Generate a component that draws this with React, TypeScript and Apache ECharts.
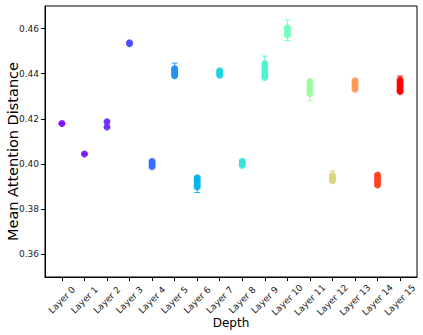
import React, { useEffect, useRef } from 'react';
import * as echarts from 'echarts';

const layers = ['Layer 0', 'Layer 1', 'Layer 2', 'Layer 3', 'Layer 4', 'Layer 5', 'Layer 6', 'Layer 7',
  'Layer 8', 'Layer 9', 'Layer 10', 'Layer 11', 'Layer 12', 'Layer 13', 'Layer 14', 'Layer 15'];

const layerPoints: number[][] = [
  [0.418],
  [0.4045],
  [0.4187, 0.4164],
  [0.4537, 0.4533],
  [0.4012, 0.4005, 0.3997, 0.3988],
  [0.4423, 0.4415, 0.4405, 0.4398, 0.4391],
  [0.3939, 0.393, 0.392, 0.3908, 0.3899],
  [0.4413, 0.4405, 0.4398, 0.4394],
  [0.4012, 0.4004, 0.3995],
  [0.4445, 0.4432, 0.4418, 0.4405, 0.4393, 0.4384],
  [0.4604, 0.4595, 0.4585, 0.4572],
  [0.4366, 0.4352, 0.4338, 0.4325, 0.4313],
  [0.3949, 0.394, 0.3932, 0.3926],
  [0.4369, 0.4357, 0.4345, 0.4332],
  [0.3951, 0.394, 0.3928, 0.3917, 0.3907],
  [0.4372, 0.4362, 0.435, 0.4338, 0.4328, 0.4321],
];

const errLow = [0.4178, 0.4043, 0.4162, 0.4531, 0.3985, 0.4388, 0.3874, 0.4392,
  0.3993, 0.438, 0.4547, 0.428, 0.3922, 0.433, 0.3904, 0.4318];
const errHigh = [0.4182, 0.4047, 0.419, 0.4539, 0.4015, 0.4447, 0.3942, 0.4416,
  0.4014, 0.4478, 0.4638, 0.437, 0.397, 0.4372, 0.3955, 0.439];

const colors = ['#8000ff', '#7510ff', '#6628fe', '#4f4bfc', '#386ef9', '#1f90f4', '#00b4ec', '#1fd3e0',
  '#33e3da', '#4df3ce', '#70febe', '#9efaa1', '#dbd77b', '#ff964f', '#ff4020', '#ff0000'];

const yTicks = [0.36, 0.38, 0.4, 0.42, 0.44, 0.46];
const xTicks = layers.map((_, i) => i);

const FONT = 'DejaVu Sans';

export default function App() {
  const ref = useRef<HTMLDivElement>(null);
  useEffect(() => {
    if (!ref.current) return;
    const chart = echarts.init(ref.current, undefined, { renderer: 'svg' });
    const scatterSeries = layerPoints.map((pts, i) => ({
      type: 'scatter',
      name: layers[i],
      data: pts.map((v) => [i, v]),
      symbol: 'circle',
      symbolSize: 7,
      itemStyle: { color: colors[i], opacity: 0.9 },
      z: 3,
    }));
    const errData = layers.map((_, i) => [i, errLow[i], errHigh[i]]);
    chart.setOption({
      animation: false,
      grid: {
        left: 45, right: 6, top: 6, bottom: 58,
        containLabel: false, outerBoundsMode: 'none',
        show: true, borderColor: '#000', borderWidth: 1,
      },
      xAxis: {
        type: 'value',
        min: -0.75,
        max: 15.75,
        name: 'Depth',
        nameLocation: 'middle',
        nameGap: 40,
        nameMoveOverlap: false,
        nameTextStyle: { fontFamily: FONT, fontSize: 12, color: '#000', verticalAlign: 'top' },
        axisLine: { show: true, onZero: false, lineStyle: { color: '#000', width: 1 } },
        axisTick: { show: true, length: 4, lineStyle: { color: '#000' }, customValues: xTicks },
        axisLabel: {
          customValues: xTicks,
          formatter: (v: number) => layers[Math.round(v)] ?? '',
          rotate: 45,
          align: 'center',
          verticalAlign: 'middle',
          margin: 23,
          fontFamily: FONT,
          fontSize: 9,
          color: '#222',
        },
        splitLine: { show: false },
      },
      yAxis: {
        type: 'value',
        min: 0.35,
        max: 0.47,
        name: 'Mean Attention Distance',
        nameLocation: 'middle',
        nameGap: 32,
        nameMoveOverlap: false,
        nameTextStyle: {
          fontFamily: FONT, fontSize: 14.5, color: '#000', verticalAlign: 'middle',
          padding: [0, 20, 0, 0],
        },
        axisLine: { show: true, onZero: false, lineStyle: { color: '#000', width: 1 } },
        axisTick: { show: true, length: 4, lineStyle: { color: '#000' }, customValues: yTicks },
        axisLabel: {
          customValues: yTicks,
          formatter: (v: number) => v.toFixed(2),
          margin: 6,
          fontFamily: FONT,
          fontSize: 9,
          color: '#222',
        },
        splitLine: { show: false },
      },
      series: [
        {
          type: 'custom',
          name: 'error',
          data: errData,
          encode: { x: 0, y: [1, 2] },
          z: 2,
          renderItem: (params: any, api: any) => {
            const i = api.value(0);
            const pLo = api.coord([i, api.value(1)]);
            const pHi = api.coord([i, api.value(2)]);
            const w = 3;
            const style = { stroke: colors[i], lineWidth: 1, opacity: 0.9 };
            return {
              type: 'group',
              children: [
                { type: 'line', shape: { x1: pLo[0], y1: pLo[1], x2: pHi[0], y2: pHi[1] }, style },
                { type: 'line', shape: { x1: pLo[0] - w, y1: pLo[1], x2: pLo[0] + w, y2: pLo[1] }, style },
                { type: 'line', shape: { x1: pHi[0] - w, y1: pHi[1], x2: pHi[0] + w, y2: pHi[1] }, style },
              ],
            };
          },
        },
        ...scatterSeries,
      ],
    });
    return () => chart.dispose();
  }, []);
  return (
    <div style={{ position: 'fixed', left: 0, top: 0, width: 423, height: 335, background: '#fff' }}>
      <div ref={ref} style={{ width: 423, height: 335 }} />
    </div>
  );
}
